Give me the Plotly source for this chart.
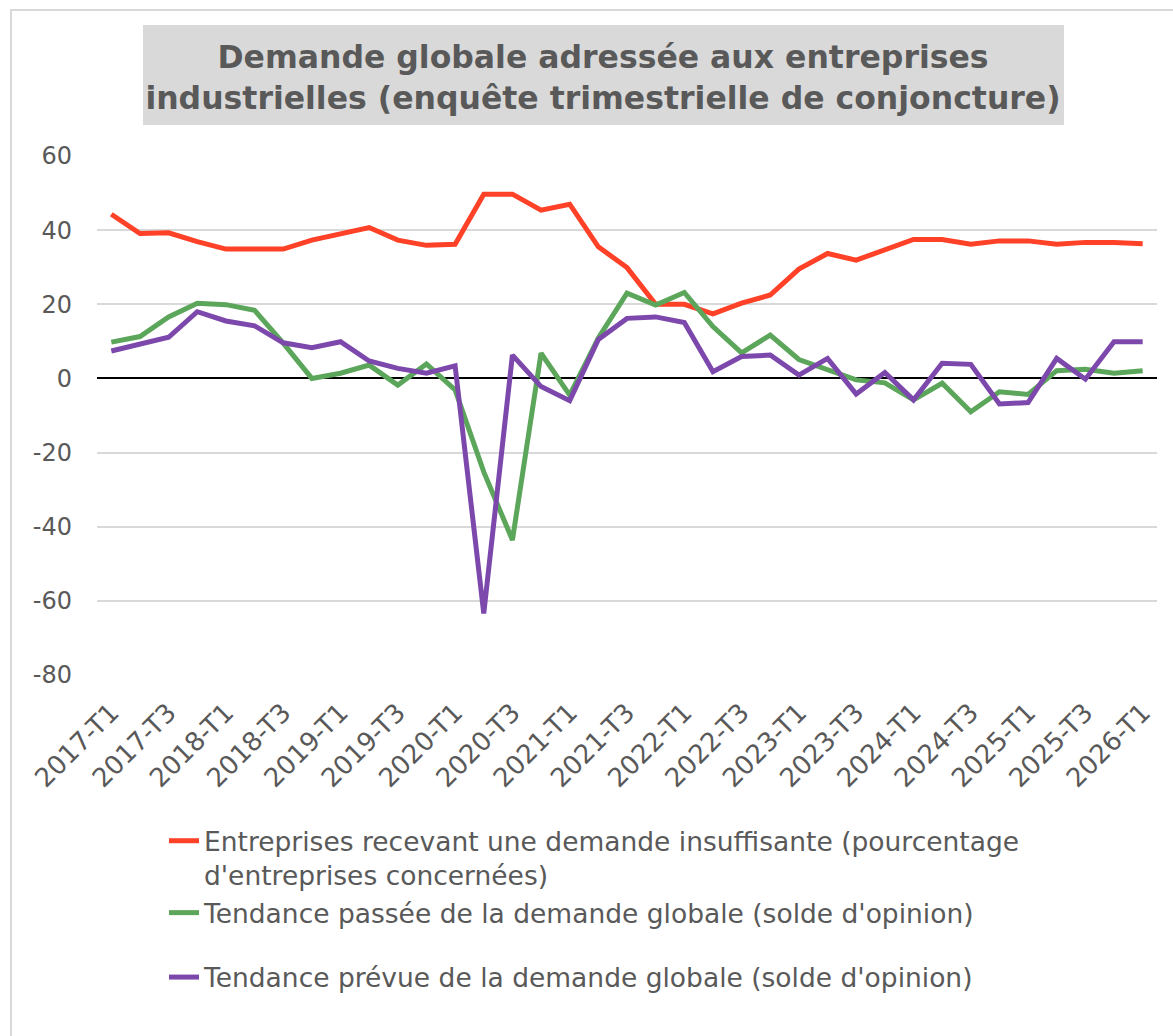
import plotly.graph_objects as go

quarters = [f"{y}-T{q}" for y in range(2017, 2026) for q in range(1, 5)] + ["2026-T1"]

insuffisante = [44.3, 39.1, 39.3, 36.9, 34.9, 34.9, 34.9, 37.3, 39.0, 40.7,
                37.3, 35.9, 36.2, 49.7, 49.7, 45.4, 47.0, 35.5, 29.9, 20.0,
                20.0, 17.4, 20.3, 22.5, 29.5, 33.7, 31.9, 34.8, 37.5, 37.5,
                36.2, 37.1, 37.1, 36.2, 36.7, 36.7, 36.3]
passee = [9.8, 11.3, 16.6, 20.3, 19.9, 18.4, 9.5, 0.0, 1.4, 3.6,
          -1.8, 3.9, -3.1, -25.2, -43.6, 6.8, -4.5, 10.9, 23.0, 19.8,
          23.2, 14.0, 6.9, 11.7, 5.1, 2.3, -0.4, -1.2, -5.8, -1.3,
          -9.0, -3.6, -4.3, 2.1, 2.5, 1.4, 2.1]
prevue = [7.4, 9.2, 11.1, 18.0, 15.5, 14.2, 9.6, 8.3, 9.9, 4.7,
          2.7, 1.4, 3.4, -63.4, 6.3, -2.2, -6.0, 10.5, 16.2, 16.6,
          15.1, 1.8, 5.9, 6.3, 0.9, 5.4, -4.2, 1.6, -5.8, 4.1,
          3.8, -6.9, -6.5, 5.4, -0.2, 9.9, 9.9]

series_names = [
    "Entreprises recevant une demande insuffisante (pourcentage<br>d'entreprises concernées)",
    "Tendance passée de la demande globale (solde d'opinion)",
    "Tendance prévue de la demande globale (solde d'opinion)",
]
series_colors = ["#FF4127", "#5BA65A", "#7D48AC"]
y_ticks = [60, 40, 20, 0, -20, -40, -60, -80]
y_ticktext = ["60", "40", "20", "0", "-20", "-40", "-60", "-80"]

W, H = 1173, 1036
L, R, T, B = 97, 16, 156, 361
pw, ph = W - L - R, H - T - B

def px_x(p):
    return (p - L) / pw

def px_y(p):
    return (H - B - p) / ph

FONT = "DejaVu Sans"
GREY = "#595959"

fig = go.Figure()
for vals, name, col, grp in zip([insuffisante, passee, prevue], series_names, series_colors, ["a", "a", "b"]):
    fig.add_trace(go.Scatter(
        x=quarters, y=vals, name=name, mode="lines", legendgroup=grp,
        line=dict(color=col, width=5),
    ))

fig.update_layout(
    width=W, height=H,
    margin=dict(l=L, r=R, t=T, b=B),
    paper_bgcolor="white", plot_bgcolor="white",
    font=dict(family=FONT, color=GREY),
    title=dict(
        text="<b>Demande globale adressée aux entreprises<br>industrielles (enquête trimestrielle de conjoncture)</b>",
        x=603 / W, xanchor="center", xref="container",
        y=1 - 68 / H, yanchor="middle", yref="container",
        font=dict(family=FONT, size=31.5, color=GREY),
    ),
    xaxis=dict(
        type="category", range=[-0.5, len(quarters) - 0.5],
        tickmode="array", tickvals=quarters[::2], ticktext=quarters[::2],
        tickangle=-45, tickfont=dict(size=26, color=GREY),
        showgrid=False, showline=False, zeroline=False, ticks="",
        ticklabelstandoff=16,
    ),
    yaxis=dict(
        range=[-80, 60], tickmode="array", tickvals=y_ticks, ticktext=y_ticktext,
        tickfont=dict(size=24, color=GREY),
        showgrid=True, gridcolor="#D9D9D9", gridwidth=1.5,
        zeroline=True, zerolinecolor="black", zerolinewidth=1.5,
        showline=False, ticks="", ticklabelstandoff=24,
    ),
    legend=dict(
        x=px_x(164), xanchor="left", y=px_y(817), yanchor="top",
        font=dict(family=FONT, size=26.5, color=GREY),
        traceorder="grouped", tracegroupgap=27, valign="top",
        bgcolor="rgba(0,0,0,0)",
    ),
    showlegend=True,
    shapes=[
        dict(type="rect", xref="paper", yref="paper",
             x0=px_x(143), x1=px_x(1064), y0=px_y(125), y1=px_y(25),
             fillcolor="#D9D9D9", line=dict(width=0), layer="below"),
        dict(type="rect", xref="paper", yref="paper",
             x0=px_x(11), x1=px_x(1190), y0=px_y(1060), y1=px_y(10),
             fillcolor="rgba(0,0,0,0)", line=dict(color="#D9D9D9", width=2), layer="below"),
    ],
)

fig.write_html("out.html", config={"displayModeBar": False},
               post_script="document.body.style.margin='0';")
